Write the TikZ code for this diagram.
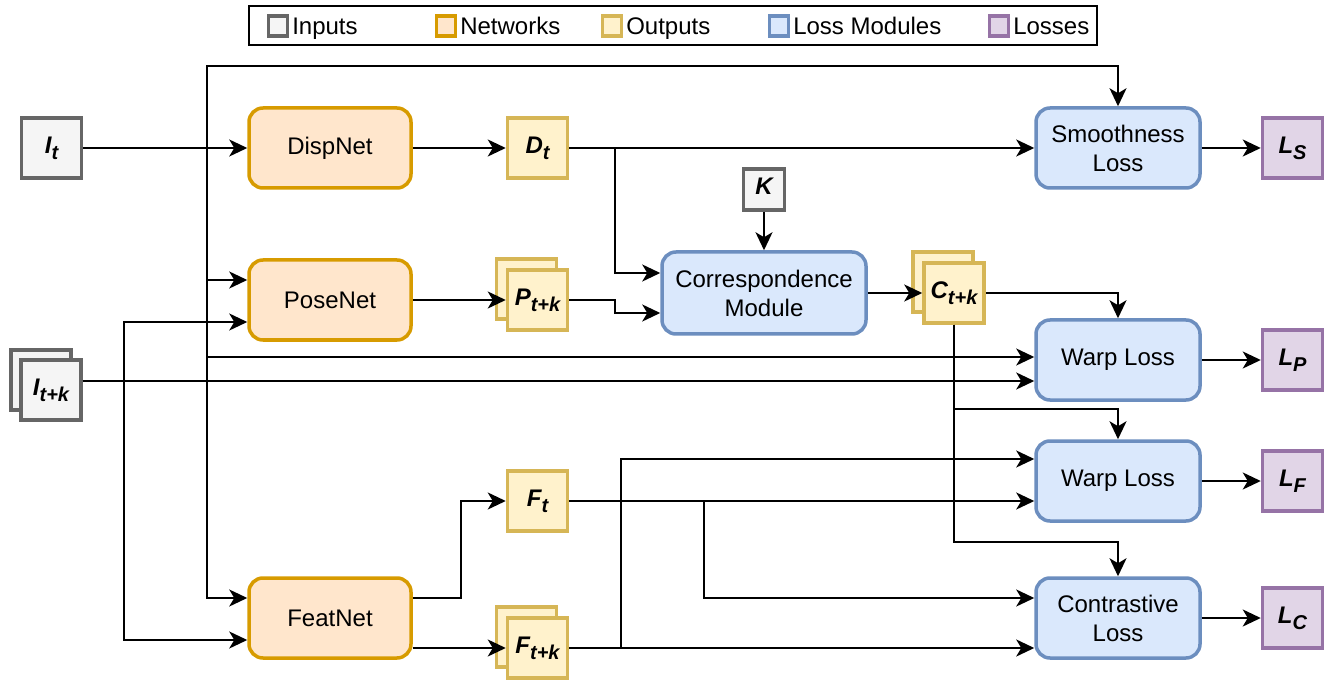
\documentclass[tikz,border=0pt]{standalone}
\usepackage{fontspec}
\setmainfont{Liberation Sans}
\usetikzlibrary{arrows.meta,positioning,shadows}
\definecolor{inFill}{HTML}{F5F5F5}
\definecolor{inDraw}{HTML}{666666}
\definecolor{netFill}{HTML}{FFE6CC}
\definecolor{netDraw}{HTML}{D79B00}
\definecolor{outFill}{HTML}{FFF2CC}
\definecolor{outDraw}{HTML}{D6B656}
\definecolor{lmFill}{HTML}{DAE8FC}
\definecolor{lmDraw}{HTML}{6C8EBF}
\definecolor{lsFill}{HTML}{E1D5E7}
\definecolor{lsDraw}{HTML}{9673A6}
\newcommand{\varlbl}[2]{{\fontsize{24}{28}\selectfont\bfseries\itshape #1\raisebox{-0.25em}{\fontsize{20}{20}\selectfont #2}}}

\begin{document}
\begin{tikzpicture}[x=1pt, y=-1pt, line width=2pt,
 >={Stealth[length=18pt,width=17pt,inset=5pt]},
 every node/.style={align=center, inner sep=0pt, font=\fontsize{24}{29}\selectfont},
 inbox/.style={draw=inDraw, fill=inFill, line width=3.5pt, minimum size=60pt},
 outbox/.style={draw=outDraw, fill=outFill, line width=3.5pt, minimum size=60pt},
 lossout/.style={draw=lsDraw, fill=lsFill, line width=3.5pt, minimum size=60pt},
 netbox/.style={draw=netDraw, fill=netFill, line width=3.5pt, rounded corners=14pt,
   minimum width=162pt, minimum height=80pt},
 lossbox/.style={draw=lmDraw, fill=lmFill, line width=3.5pt, rounded corners=14pt,
   minimum width=164pt, minimum height=80pt},
 stacked/.style={copy shadow={shadow xshift=-11pt, shadow yshift=11pt}},
 keybox/.style={line width=3.5pt, minimum width=19pt, minimum height=20pt},
 keytext/.style={inner sep=0pt, text height=20pt, text depth=2pt}]
\useasboundingbox (0,0) rectangle (1335,684);

% legend
\node[draw, line width=2pt, minimum width=848pt, minimum height=39pt] (legend) at (673,25.5) {};
\node[keybox, draw=inDraw, fill=inFill] (keyin) at (278,26) {};
\node[keytext, right=2pt of keyin] {Inputs};
\node[keybox, draw=netDraw, fill=netFill] (keynet) at (446,26) {};
\node[keytext, right=2pt of keynet] {Networks};
\node[keybox, draw=outDraw, fill=outFill] (keyout) at (612,26) {};
\node[keytext, right=2pt of keyout] {Outputs};
\node[keybox, draw=lmDraw, fill=lmFill] (keylm) at (779,26) {};
\node[keytext, right=2pt of keylm] {Loss Modules};
\node[keybox, draw=lsDraw, fill=lsFill] (keyls) at (999,26) {};
\node[keytext, right=2pt of keyls] {Losses};

% networks and inputs
\node[netbox] (dispnet) at (330,148) {DispNet};
\node[netbox] (posenet) at (330,300) {PoseNet};
\node[netbox] (featnet) at (330,618) {FeatNet};
\node[inbox, left=164pt of dispnet] (it) {\varlbl{I}{t}};
\node[inbox, copy shadow={shadow xshift=-10pt, shadow yshift=10pt}] (itk) at (51,390) {\varlbl{I}{t+k}};

% outputs
\node[outbox, right=93pt of dispnet] (dt) {\varlbl{D}{t}};
\node[outbox, stacked, right=93pt of posenet] (ptk) {\varlbl{P}{t+k}};
\node[outbox, stacked] (ftk) at (537.5,648) {\varlbl{F}{t+k}};
\node[outbox, above=83.5pt of ftk] (ft) {\varlbl{F}{t}};

% correspondence
\node[lossbox, minimum width=204pt, minimum height=82pt] (corr) at (764,293) {Correspondence\\Module};
\node[inbox, minimum size=41pt, above=38.5pt of corr] (kmat) {\varlbl{K}{}};
\node[outbox, stacked, right=54.5pt of corr] (ctk) {\varlbl{C}{t+k}};

% loss modules and losses
\node[lossbox, right=465pt of dt] (smooth) {Smoothness\\Loss};
\node[lossbox, below=128.5pt of smooth] (warpp) {Warp Loss};
\node[lossbox, below=37.5pt of warpp] (warpf) {Warp Loss};
\node[lossbox, below=53.5pt of warpf] (contr) {Contrastive\\Loss};
\node[lossout, right=59pt of smooth] (ls) {\varlbl{L}{S}};
\node[lossout, right=59pt of warpp] (lp) {\varlbl{L}{P}};
\node[lossout, right=59pt of warpf] (lf) {\varlbl{L}{F}};
\node[lossout, right=59pt of contr] (lc) {\varlbl{L}{C}};

% bus corners
\coordinate (topbus) at (207,66);
\coordinate (leftbus) at (124,381);
\coordinate (dtbus) at (615,148);
\coordinate (ftbus) at (704,501);
\coordinate (ftkbus) at (621,648);

% connectors
\draw[->] (it) -- (dispnet);
\draw[->] (it.east) -| (topbus) -| (smooth.north);
\draw[->] (it.east) -- (it.east -| topbus) |- ([yshift=20pt]posenet.west);
\draw[->] (it.east) -- (it.east -| topbus) |- ([yshift=3pt]warpp.west);
\draw[->] (it.east) -- (it.east -| topbus) |- ([yshift=20pt]featnet.west);
\draw[->] ([yshift=9pt]itk.east) -- ([yshift=-21pt]warpp.west);
\draw[->] ([yshift=9pt]itk.east) -- (leftbus) |- ([yshift=-22pt]posenet.west);
\draw[->] ([yshift=9pt]itk.east) -- (leftbus) |- ([yshift=-22pt]featnet.west);
\draw[->] (dispnet) -- (dt);
\draw[->] (dt) -- (smooth);
\draw[->] (dt.east) -- (dtbus) |- ([yshift=20pt]corr.west);
\draw[->] (posenet) -- (ptk);
\draw[->] (ptk.east) -- (ptk.east -| dtbus) |- ([yshift=-20pt]corr.west);
\draw[->] (kmat) -- (corr);
\draw[->] (corr) -- (ctk);
\draw[->] (ctk.east) -| (warpp.north);
\draw[->] (ctk.south) |- ([yshift=30pt]warpf.north) -- (warpf.north);
\draw[->] (ctk.south) |- ([yshift=34pt]contr.north) -- (contr.north);
\draw[->] ([yshift=20pt]featnet.east) -- ++(48,0) |- (ft.west);
\draw[->] (featnet.east |- ftk) -- (ftk);
\draw[->] (ft.east) -- (ft.east -| warpf.west);
\draw[->] (ft.east) -- (ftbus) |- ([yshift=20pt]contr.west);
\draw[->] (ftk.east) -- (ftkbus) |- ([yshift=22pt]warpf.west);
\draw[->] (ftk.east) -- (ftk.east -| contr.west);
\draw[->] (smooth) -- (ls);
\draw[->] (warpp) -- (lp);
\draw[->] (warpf) -- (lf);
\draw[->] (contr) -- (lc);
\end{tikzpicture}
\end{document}
